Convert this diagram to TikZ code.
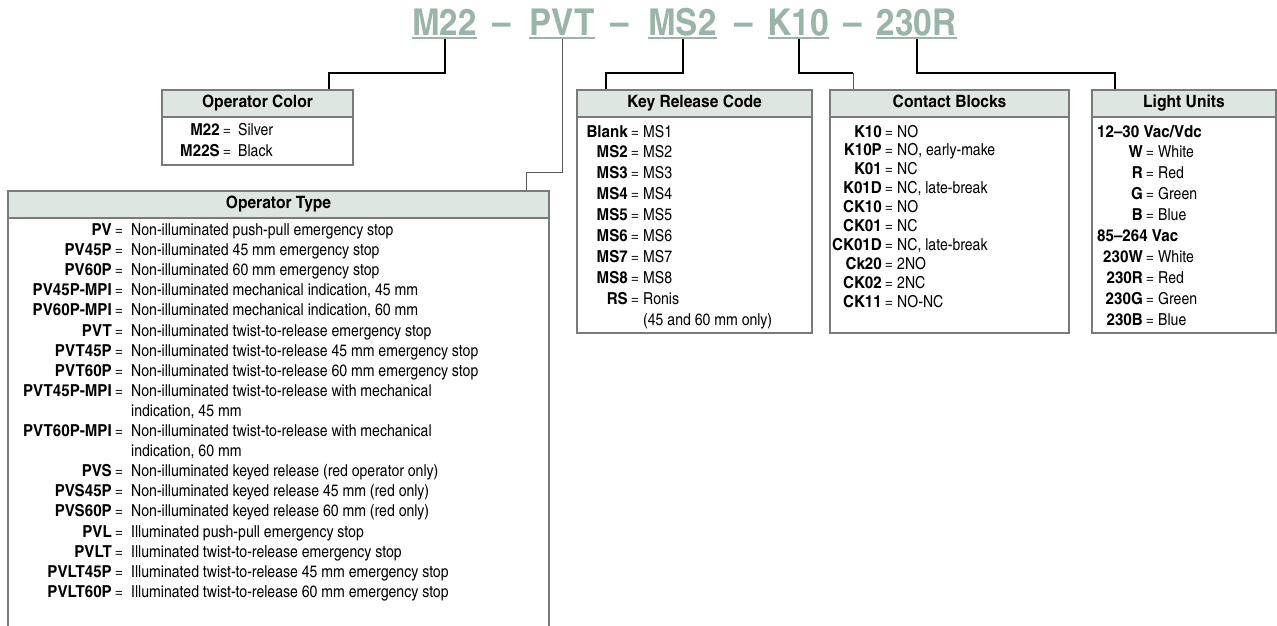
\documentclass[tikz,border=0pt]{standalone}
\usepackage{fontspec}
\setmainfont{texgyreheroscn}[Extension=.otf, UprightFont=*-regular, BoldFont=*-bold,
    UprightFeatures={FakeStretch=1.04}, BoldFeatures={FakeStretch=1.12}]
\newfontfamily\codefont{texgyreheroscn}[Extension=.otf, UprightFont=*-bold, FakeStretch=1.1, Ligatures=TeX]
\usepackage{xcolor}
\usepackage{tikz}

\definecolor{codegreen}{HTML}{9AB5A8}
\definecolor{hdrfill}{HTML}{DDE6E0}
\definecolor{boxgray}{HTML}{7A7A7A}

\tikzset{
    hdr/.style={draw=boxgray, line width=1.1pt, fill=hdrfill, inner sep=0pt, minimum height=27pt, text height=12pt, text depth=3.5pt, font=\fontsize{17}{17}\selectfont\bfseries},
    boxline/.style={draw=boxgray, line width=1.1pt},
    key/.style={inner sep=0pt, anchor=base east, font=\fontsize{16.5}{16.5}\selectfont\bfseries},
    eq/.style={inner sep=0pt, anchor=base, font=\fontsize{16.5}{16.5}\selectfont},
    row/.style={inner sep=0pt, anchor=base west, font=\fontsize{16.5}{16.5}\selectfont},
    code/.style={inner sep=0pt, text depth=0pt, anchor=base, text=codegreen, font=\fontsize{37}{37}\codefont},
    uline/.style={codegreen, line width=2pt},
    conn/.style={line width=2pt, black},
    thinconn/.style={line width=1pt, black!65},
}

\begin{document}
\begin{tikzpicture}[x=1pt, y=-1pt]
        \useasboundingbox (0,0) rectangle (1277,625);

        % order code
        \node[code] (m22) at (444.5,35) {M22};
        \node[code] (d1) at (502,35) {--};
        \node[code] (pvt) at (562,35) {PVT};
        \node[code] (d2) at (620,35) {--};
        \node[code] (ms2) at (682.5,35) {MS2};
        \node[code] (d3) at (744,35) {--};
        \node[code] (k10) at (798.5,35) {K10};
        \node[code] (d4) at (852.5,35) {--};
        \node[code] (lu) at (916.5,35) {230R};

        \draw[uline] ([yshift=-2.5pt]m22.south west) -- ([yshift=-2.5pt]m22.south east);
        \draw[uline] ([yshift=-2.5pt]pvt.south west) -- ([yshift=-2.5pt]pvt.south east);
        \draw[uline] ([yshift=-2.5pt]ms2.south west) -- ([yshift=-2.5pt]ms2.south east);
        \draw[uline] ([yshift=-2.5pt]k10.south west) -- ([yshift=-2.5pt]k10.south east);
        \draw[uline] ([yshift=-2.5pt]lu.south west) -- ([yshift=-2.5pt]lu.south east);

        % boxes
        \draw[boxline] (162,117) rectangle (353,165);
        \draw[boxline] (8,218) rectangle (549,660);
        \draw[boxline] (577,117) rectangle (812,333);
        \draw[boxline] (830,117) rectangle (1069,333);
        \draw[boxline] (1092,117) rectangle (1276,333);

        \node[hdr, minimum width=191pt] (colhd) at (257.5,103.5) {Operator Color};
        \node[hdr, minimum width=541pt] (typehd) at (278.5,204.5) {Operator Type};
        \node[hdr, minimum width=235pt] (keyhd) at (694.5,103.5) {Key Release Code};
        \node[hdr, minimum width=239pt] (conhd) at (949.5,103.5) {Contact Blocks};
        \node[hdr, minimum width=184pt] (lighthd) at (1184,103.5) {Light Units};

        % connectors
        \coordinate (c1) at (329,73);
        \coordinate (c2) at (526,172);
        \coordinate (c3) at (606,73);
        \coordinate (c4) at (853,73);
        \coordinate (c5) at (1115,73);
        \draw[conn] ([yshift=-3.5pt]m22.south) |- (c1) -- (c1 |- colhd.north);
        \draw[thinconn] ([yshift=-3.5pt]pvt.south) |- (c2) -- (c2 |- typehd.north);
        \draw[conn] ([yshift=-3.5pt]ms2.south) |- (c3) -- (c3 |- keyhd.north);
        \draw[conn] ([yshift=-3.5pt]k10.south) |- (c4);
        \draw[thinconn] (c4) -- (c4 |- conhd.north);
        \draw[conn] ([yshift=-3.5pt]lu.south) |- (c5) -- (c5 |- lighthd.north);

        % operator color
        \foreach \k/\v/\i in {M22/Silver/0, M22S/Black/1} {
            \node[key] (colk\i) at (220,135+21*\i) {\k};
            \node[eq] (cole\i) at (227,135+21*\i) {=};
            \node[row] (colv\i) at (238,135+21*\i) {\v};
        }

        % operator type
        \foreach \k/\v/\i in {PV/{Non-illuminated push-pull emergency stop}/0,
                PV45P/{Non-illuminated 45 mm emergency stop}/1,
                PV60P/{Non-illuminated 60 mm emergency stop}/2,
                PV45P-MPI/{Non-illuminated mechanical indication, 45 mm}/3,
                PV60P-MPI/{Non-illuminated mechanical indication, 60 mm}/4,
                PVT/{Non-illuminated twist-to-release emergency stop}/5,
                PVT45P/{Non-illuminated twist-to-release 45 mm emergency stop}/6,
                PVT60P/{Non-illuminated twist-to-release 60 mm emergency stop}/7,
                PVT45P-MPI/{Non-illuminated twist-to-release with mechanical}/8,
                PVT60P-MPI/{Non-illuminated twist-to-release with mechanical}/10,
                PVS/{Non-illuminated keyed release (red operator only)}/12,
                PVS45P/{Non-illuminated keyed release 45 mm (red only)}/13,
                PVS60P/{Non-illuminated keyed release 60 mm (red only)}/14,
                PVL/{Illuminated push-pull emergency stop}/15,
                PVLT/{Illuminated twist-to-release emergency stop}/16,
                PVLT45P/{Illuminated twist-to-release 45 mm emergency stop}/17,
                PVLT60P/{Illuminated twist-to-release 60 mm emergency stop}/18} {
            \node[key] (otk\i) at (112,235.5+20.1*\i) {\k};
            \node[eq] (ote\i) at (119,235.5+20.1*\i) {=};
            \node[row] (otv\i) at (131,235.5+20.1*\i) {\v};
        }
        \node[row] (otv9) at (131,235.5+20.1*9) {indication, 45 mm};
        \node[row] (otv11) at (131,235.5+20.1*11) {indication, 60 mm};

        % key release code
        \foreach \k/\v/\i in {Blank/MS1/0, MS2/MS2/1, MS3/MS3/2, MS4/MS4/3, MS5/MS5/4,
                MS6/MS6/5, MS7/MS7/6, MS8/MS8/7, RS/Ronis/8} {
            \node[key] (krk\i) at (628,137+20.9*\i) {\k};
            \node[eq] (kre\i) at (635,137+20.9*\i) {=};
            \node[row] (krv\i) at (643,137+20.9*\i) {\v};
        }
        \node[row] (krv9) at (643,137+20.9*9) {(45 and 60 mm only)};

        % contact blocks
        \foreach \k/\v/\i in {K10/NO/0, K10P/{NO, early-make}/1, K01/NC/2, K01D/{NC, late-break}/3,
                CK10/NO/4, CK01/NC/5, CK01D/{NC, late-break}/6, Ck20/2NO/7, CK02/2NC/8, CK11/NO-NC/9} {
            \node[key] (cbk\i) at (882,137+18.9*\i) {\k};
            \node[eq] (cbe\i) at (889,137+18.9*\i) {=};
            \node[row] (cbv\i) at (897,137+18.9*\i) {\v};
        }

        % light units
        \node[row, font=\fontsize{16.5}{16.5}\selectfont\bfseries] (lv1) at (1097,137) {12--30 Vac/Vdc};
        \node[row, font=\fontsize{16.5}{16.5}\selectfont\bfseries] (lv2) at (1097,137+20.9*5) {85--264 Vac};
        \foreach \k/\v/\i in {W/White/1, R/Red/2, G/Green/3, B/Blue/4,
                230W/White/6, 230R/Red/7, 230G/Green/8, 230B/Blue/9} {
            \node[key] (luk\i) at (1143,137+20.9*\i) {\k};
            \node[eq] (lue\i) at (1150,137+20.9*\i) {=};
            \node[row] (luv\i) at (1158,137+20.9*\i) {\v};
        }
    \end{tikzpicture}
\end{document}
